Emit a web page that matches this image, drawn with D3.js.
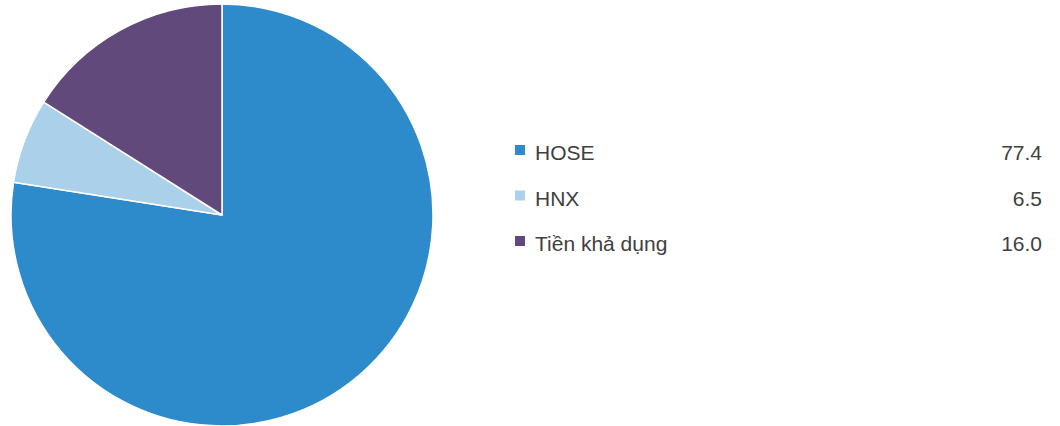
<!DOCTYPE html>
<html>
<head>
<meta charset="utf-8">
<script src="https://cdn.jsdelivr.net/npm/d3@7"></script>
<style>
	body { margin: 0; background: #fff; }
	svg text { font-family: "Liberation Sans", Arial, sans-serif; fill: #404040; }
</style>
</head>
<body>
<svg id="chart" width="1060" height="426"></svg>
<script>
var labels = ['HOSE', 'HNX', 'Tiền khả dụng'];
var values = [77.4, 6.5, 16.0];
var colors = ['#2e8bcb', '#abd0ea', '#614a7b'];

var svg = d3.select('#chart');
var cx = 222, cy = 215, radius = 211;

var pie = d3.pie().sort(null).value(function(d){ return d; });
var arc = d3.arc().innerRadius(0).outerRadius(radius);

var g = svg.append('g').attr('transform', 'translate(' + cx + ',' + cy + ')');
g.selectAll('path')
	.data(pie(values))
	.enter().append('path')
	.attr('d', arc)
	.attr('fill', function(d, i){ return colors[i]; })
	.attr('stroke', '#fff')
	.attr('stroke-width', 1.5)
	.attr('stroke-linejoin', 'round');

// legend rows
var rowY = d3.scalePoint().domain(labels).range([159, 250]);

var legend = svg.append('g');
var rows = legend.selectAll('g')
	.data(labels)
	.enter().append('g')
	.attr('transform', function(d){ return 'translate(0,' + rowY(d) + ')'; });

rows.append('rect')
	.attr('x', 515).attr('y', -14)
	.attr('width', 10).attr('height', 10)
	.attr('fill', function(d, i){ return colors[i]; });

rows.append('text')
	.attr('x', 535)
	.attr('y', 1)
	.attr('font-size', 21)
	.text(function(d){ return d; });

rows.append('text')
	.attr('x', 1042)
	.attr('y', 1)
	.attr('text-anchor', 'end')
	.attr('font-size', 21)
	.text(function(d, i){ return values[i].toFixed(1); });
</script>
</body>
</html>
